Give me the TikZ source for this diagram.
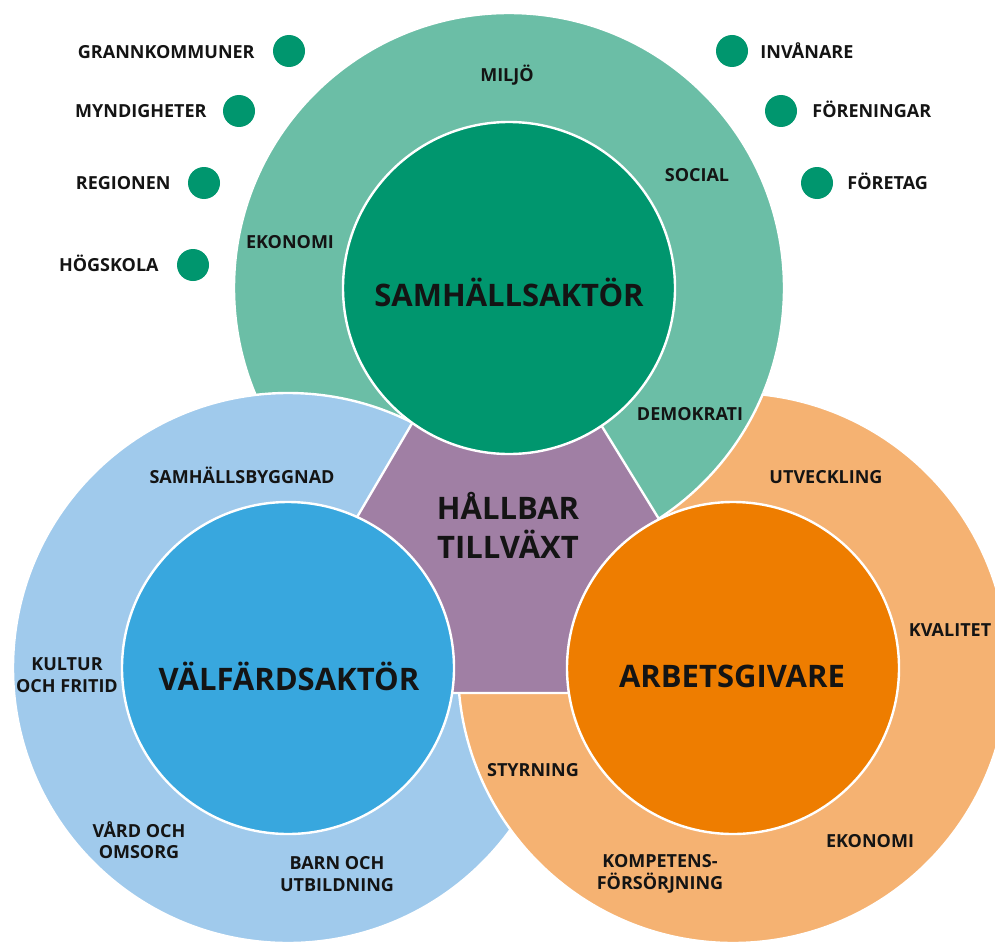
\documentclass[tikz,border=0pt]{standalone}
\usepackage{fontspec}
\setmainfont{Open Sans}
\definecolor{greenL}{RGB}{107,190,166}
\definecolor{greenD}{RGB}{0,150,110}
\definecolor{blueL}{RGB}{160,202,236}
\definecolor{blueD}{RGB}{56,167,222}
\definecolor{orangeL}{RGB}{245,178,114}
\definecolor{orangeD}{RGB}{238,125,0}
\definecolor{purp}{RGB}{160,127,164}
\definecolor{ink}{RGB}{20,20,20}
\begin{document}
\begin{tikzpicture}[x=0.5pt,y=-0.5pt,
  ringfill/.style={draw=white, line width=1.2pt},
  inner/.style={circle, draw=white, line width=1.2pt, minimum size=166pt, inner sep=0pt},
  lbl/.style={font=\bfseries\fontsize{9}{10.8}\selectfont, text=ink, inner sep=0pt, text height=6.4pt, text depth=0pt},
  lbltwo/.style={font=\bfseries\fontsize{9}{10.8}\selectfont, text=ink, inner sep=0pt, align=center},
  big/.style={font=\bfseries\fontsize{15.5}{19.5}\selectfont, text=ink, inner sep=0pt, align=center},
  dotnode/.style={circle, fill=greenD, minimum size=16pt, inner sep=0pt}]
\useasboundingbox (0,0) rectangle (995,947);
\fill[white] (0,0) rectangle (995,947);
\clip (0,0) rectangle (995,947);
\coordinate (cg) at (509,288);
\coordinate (cb) at (288,668);
\coordinate (co) at (733,668);
% outer rings
\path[fill=greenL, ringfill] (cg) circle[radius=137.5pt];
\path[fill=blueL, ringfill] (cb) circle[radius=137.5pt];
\path[fill=orangeL, ringfill] (co) circle[radius=137.5pt];
\begin{scope}
  \clip (co) circle[radius=138.6pt];
  \path[fill=greenL, ringfill] (cg) circle[radius=137.5pt];
\end{scope}
% central region
\path[fill=purp, ringfill] (414,420) -- (598,420) -- (662,524) -- (572,693) -- (450,693) -- (353,524) -- cycle;
% inner circles
\node[inner, fill=greenD] (samh) at (cg) {};
\node[inner, fill=blueD] (valf) at (cb) {};
\node[inner, fill=orangeD] (arbg) at (co) {};
% main labels
\node[big] (samhtxt) at (509,292) {SAMHÄLLSAKTÖR};
\node[big] (valftxt) at (289,676) {VÄLFÄRDSAKTÖR};
\node[big] (arbgtxt) at (732,676) {ARBETSGIVARE};
\node[big] (hall) at (508,525) {HÅLLBAR\\TILLVÄXT};
% green ring labels
\node[lbl] (miljo) at (507,75) {MILJÖ};
\node[lbl] (social) at (697,175) {SOCIAL};
\node[lbl] (ekog) at (290,242) {EKONOMI};
\node[lbl] (demo) at (690,414) {DEMOKRATI};
% blue ring labels
\node[lbl] (sbygg) at (242,477) {SAMHÄLLSBYGGNAD};
\node[lbltwo] (kultur) at (67,675) {KULTUR\\OCH FRITID};
\node[lbltwo] (vard) at (139,840) {VÅRD OCH\\OMSORG};
\node[lbltwo] (barn) at (337,874) {BARN OCH\\UTBILDNING};
% orange ring labels
\node[lbl] (utv) at (826,477) {UTVECKLING};
\node[lbl] (kval) at (950,630) {KVALITET};
\node[lbl] (styr) at (533,770) {STYRNING};
\node[lbl] (ekoo) at (870,841) {EKONOMI};
\node[lbltwo] (komp) at (660,874) {KOMPETENS-\\FÖRSÖRJNING};
% stakeholders left
\node[dotnode] (d1) at (289,51) {};
\node[dotnode] (d2) at (239,111) {};
\node[dotnode] (d3) at (204,183) {};
\node[dotnode] (d4) at (193,265) {};
\node[lbl, anchor=east] (grann) at (255,52) {GRANNKOMMUNER};
\node[lbl, anchor=east] (mynd) at (207,111) {MYNDIGHETER};
\node[lbl, anchor=east] (reg) at (171,183) {REGIONEN};
\node[lbl, anchor=east] (hogs) at (159,265) {HÖGSKOLA};
% stakeholders right
\node[dotnode] (d5) at (732,51) {};
\node[dotnode] (d6) at (781,111) {};
\node[dotnode] (d7) at (817,183) {};
\node[lbl, anchor=west] (inv) at (760,52) {INVÅNARE};
\node[lbl, anchor=west] (foren) at (812,111) {FÖRENINGAR};
\node[lbl, anchor=west] (foret) at (847,183) {FÖRETAG};
\end{tikzpicture}
\end{document}
